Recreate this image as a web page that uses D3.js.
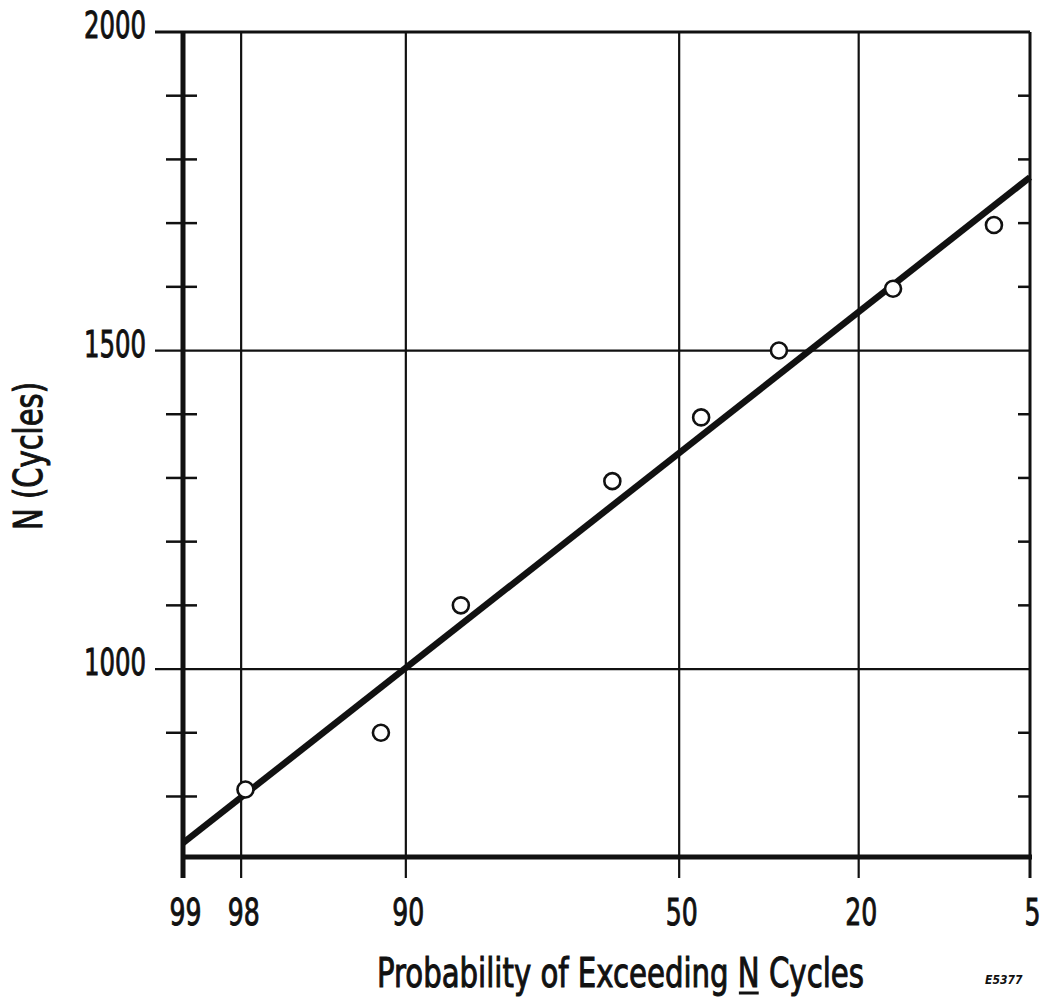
<!DOCTYPE html>
<html>
<head>
<meta charset="utf-8">
<script src="https://cdn.jsdelivr.net/npm/d3@7"></script>
<style>
  html, body { margin: 0; padding: 0; background: #fff; }
  svg { display: block; }
  text { font-family: "Liberation Sans Narrow", "DejaVu Sans Condensed", "Arial Narrow", sans-serif; fill: #111; }
</style>
</head>
<body>
<svg id="chart" width="1047" height="998"></svg>
<script>
// ---- data ----
const xTickValues = [99, 98, 90, 50, 20, 5];          // probability of exceeding (%)
const xTickLabels = ["99", "98", "90", "50", "20", "5"];
const yMajorTicks = [1000, 1500, 2000];
const yMajorLabels = ["1000", "1500", "2000"];
const yMinorTicks = [800, 900, 1100, 1200, 1300, 1400, 1600, 1700, 1800, 1900];
const pointProb = [97.9, 91.9, 84.7, 62.3, 45.9, 32.0, 15.8, 7.0];
const pointN = [811, 900, 1100, 1295, 1395, 1500, 1597, 1697];
const fitProb = [99, 5];
const fitN = [727, 1772];
const yDomain = [705, 2000];

// inverse normal CDF (Acklam) used for the probability-paper scale
function probit(p) {
  const a = [-3.969683028665376e+01, 2.209460984245205e+02, -2.759285104469687e+02, 1.383577518672690e+02, -3.066479806614716e+01, 2.506628277459239e+00];
  const b = [-5.447609879822406e+01, 1.615858368580409e+02, -1.556989798598866e+02, 6.680131188771972e+01, -1.328068155288572e+01];
  const c = [-7.784894002430293e-03, -3.223964580411365e-01, -2.400758277161838e+00, -2.549732539343734e+00, 4.374664141464968e+00, 2.938163982698783e+00];
  const d = [7.784695709041462e-03, 3.224671290700398e-01, 2.445134137142996e+00, 3.754408661907416e+00];
  const plow = 0.02425, phigh = 1 - plow;
  let q, r;
  if (p < plow) {
    q = Math.sqrt(-2 * Math.log(p));
    return (((((c[0]*q+c[1])*q+c[2])*q+c[3])*q+c[4])*q+c[5]) / ((((d[0]*q+d[1])*q+d[2])*q+d[3])*q+1);
  } else if (p > phigh) {
    q = Math.sqrt(-2 * Math.log(1 - p));
    return -(((((c[0]*q+c[1])*q+c[2])*q+c[3])*q+c[4])*q+c[5]) / ((((d[0]*q+d[1])*q+d[2])*q+d[3])*q+1);
  }
  q = p - 0.5; r = q * q;
  return (((((a[0]*r+a[1])*r+a[2])*r+a[3])*r+a[4])*r+a[5])*q / (((((b[0]*r+b[1])*r+b[2])*r+b[3])*r+b[4])*r+1);
}

// ---- layout ----
const L = 183, R = 1030, T = 32, B = 857;
const svg = d3.select("#chart");
const zScale = d3.scaleLinear().domain([probit(0.99), probit(0.05)]).range([L, R]);
const x = p => zScale(probit(p / 100));
const y = d3.scaleLinear().domain(yDomain).range([B, T]);
const ink = "#111";
const fontStack = "'Liberation Sans Narrow','DejaVu Sans Condensed',sans-serif";

// place a text so that it has a given width and a given (visual) font size,
// by choosing a real font size that fits the width and stretching vertically
function fitText(sel, tx, ty, rot, width, visualSize) {
  sel.attr("font-size", visualSize);
  const natural = sel.node().getComputedTextLength();
  const fs = visualSize * width / natural;
  const sy = visualSize / fs;
  sel.attr("font-size", fs)
     .attr("transform", `translate(${tx},${ty}) rotate(${rot}) scale(1,${sy})`);
  return sel;
}

// horizontal grid lines (1000, 1500) and top border (2000) with left tick stub
svg.append("g").selectAll("line").data(yMajorTicks).join("line")
  .attr("x1", 155).attr("x2", R)
  .attr("y1", d => y(d)).attr("y2", d => y(d))
  .attr("stroke", ink).attr("stroke-width", d => d === 2000 ? 3 : 2.2);

// vertical grid lines (98, 90, 50, 20) extending below the bottom axis
svg.append("g").selectAll("line").data(xTickValues.filter(v => v !== 99 && v !== 5)).join("line")
  .attr("x1", d => x(d)).attr("x2", d => x(d))
  .attr("y1", T).attr("y2", 878)
  .attr("stroke", ink).attr("stroke-width", 2.2);

// right border
svg.append("line").attr("x1", x(5)).attr("x2", x(5)).attr("y1", T).attr("y2", 878)
  .attr("stroke", ink).attr("stroke-width", 3);

// left minor ticks (cross the axis)
svg.append("g").selectAll("line").data(yMinorTicks).join("line")
  .attr("x1", 166).attr("x2", 197)
  .attr("y1", d => y(d)).attr("y2", d => y(d))
  .attr("stroke", ink).attr("stroke-width", 2.5);

// right minor ticks (inside)
svg.append("g").selectAll("line").data(yMinorTicks).join("line")
  .attr("x1", R - 12).attr("x2", R)
  .attr("y1", d => y(d)).attr("y2", d => y(d))
  .attr("stroke", ink).attr("stroke-width", 2.5);

// left axis (99)
svg.append("line").attr("x1", x(99)).attr("x2", x(99)).attr("y1", T - 1).attr("y2", 878)
  .attr("stroke", ink).attr("stroke-width", 5);

// bottom axis
svg.append("line").attr("x1", L).attr("x2", R + 2).attr("y1", B).attr("y2", B)
  .attr("stroke", ink).attr("stroke-width", 5);

// y labels via d3 axis (ticks hidden, drawn above)
const yAxis = d3.axisLeft(y).tickValues(yMajorTicks)
  .tickFormat((d, i) => yMajorLabels[i]).tickSize(0).tickPadding(37);
const gy = svg.append("g").attr("transform", `translate(${L},0)`).call(yAxis);
gy.select(".domain").remove();
gy.selectAll("text")
  .attr("font-size", 37).attr("dy", "0.32em").attr("y", -6)
  .attr("textLength", 62).attr("lengthAdjust", "spacingAndGlyphs")
  .attr("stroke", ink).attr("stroke-width", 0.9)
  .style("font-family", fontStack).attr("fill", ink);

// x labels
const xAxis = d3.axisBottom(zScale).tickValues(xTickValues.map(v => probit(v / 100)))
  .tickFormat((d, i) => xTickLabels[i]).tickSize(0).tickPadding(0);
const gx = svg.append("g").attr("transform", `translate(2,${B})`).call(xAxis);
gx.select(".domain").remove();
gx.selectAll("text")
  .attr("font-size", 37).attr("y", 68).attr("dy", 0)
  .attr("textLength", (d, i) => xTickLabels[i].length === 1 ? 16 : 32)
  .attr("lengthAdjust", "spacingAndGlyphs")
  .attr("stroke", ink).attr("stroke-width", 0.9)
  .style("font-family", fontStack).attr("fill", ink);

// fit line
const lineData = fitProb.map((p, i) => [p, fitN[i]]);
svg.append("path").datum(lineData)
  .attr("d", d3.line().x(d => x(d[0])).y(d => y(d[1])))
  .attr("fill", "none").attr("stroke", ink).attr("stroke-width", 6.5);

// data points
svg.append("g").selectAll("circle").data(pointProb.map((p, i) => [p, pointN[i]])).join("circle")
  .attr("cx", d => x(d[0])).attr("cy", d => y(d[1])).attr("r", 8)
  .attr("fill", "#fff").attr("stroke", ink).attr("stroke-width", 2.6);

// x axis title (single text; underline under the N drawn as a line)
const xTitle = "Probability of Exceeding N Cycles";
const xt = svg.append("text").attr("stroke", ink).attr("stroke-width", 0.8).text(xTitle);
fitText(xt, 377, 987, 0, 487, 41);
const nIdx = xTitle.indexOf(" N ") + 1;
const nBox = xt.node().getExtentOfChar(nIdx);
svg.append("line")
  .attr("x1", 377 + nBox.x + 1).attr("x2", 377 + nBox.x + nBox.width - 1)
  .attr("y1", 993).attr("y2", 993)
  .attr("stroke", ink).attr("stroke-width", 3);

const yt = svg.append("text").attr("text-anchor", "middle")
  .attr("stroke", ink).attr("stroke-width", 0.8).text("N (Cycles)");
fitText(yt, 42, 456, -90, 148, 39);

svg.append("text").attr("x", 985).attr("y", 984)
  .attr("font-size", 12).attr("font-weight", "bold").attr("font-style", "italic")
  .text("E5377");
</script>
</body>
</html>
